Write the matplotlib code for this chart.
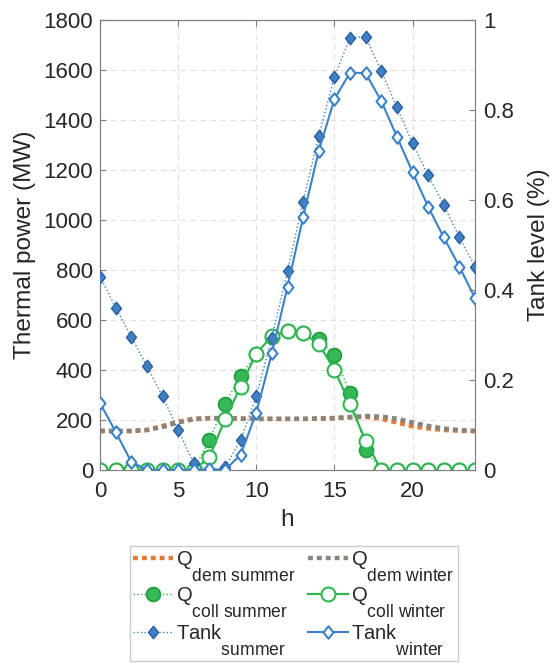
import matplotlib
matplotlib.use("Agg")
import matplotlib.pyplot as plt
import matplotlib._mathtext as _mathtext
from matplotlib.path import Path

plt.rcParams['font.family'] = ['Liberation Sans', 'DejaVu Sans']
plt.rcParams['mathtext.fontset'] = 'custom'
plt.rcParams['mathtext.rm'] = 'Liberation Sans'
plt.rcParams['mathtext.it'] = 'Liberation Sans'
# larger, lower subscripts in the legend labels
_mathtext.SHRINK_FACTOR = 0.87
for _cls in (_mathtext.FontConstantsBase, _mathtext.DejaVuSansFontConstants):
    _cls.sub1 = 1.5

# Hours of the day
hours = list(range(25))

# Thermal demand (MW)
q_dem_summer = [155, 155, 155, 160, 176, 193, 205, 208, 207, 205, 204, 204, 204,
                204, 205, 207, 210, 212, 205, 190, 175, 166, 160, 157, 155]
q_dem_winter = [157, 157, 157, 160, 172, 190, 203, 207, 207, 206, 205, 205, 205,
                205, 206, 208, 212, 216, 214, 205, 190, 176, 166, 160, 157]

# Collector output (MW)
q_coll_summer = [0, 0, 0, 0, 0, 0, 0, 120, 266, 375, 465, 533, 555,
                 548, 525, 460, 309, 80, 0, 0, 0, 0, 0, 0, 0]
q_coll_winter = [0, 0, 0, 0, 0, 0, 0, 51, 203, 333, 466, 535, 557,
                 548, 504, 402, 263, 117, 0, 0, 0, 0, 0, 0, 0]

# Storage tank level (fraction of capacity)
tank_summer = [0.430, 0.361, 0.296, 0.231, 0.164, 0.089, 0.015, 0.0, 0.006, 0.066,
               0.164, 0.294, 0.442, 0.596, 0.743, 0.874, 0.960, 0.963, 0.887, 0.806,
               0.727, 0.655, 0.589, 0.517, 0.452]
tank_winter = [0.149, 0.085, 0.018, 0.0, 0.0, 0.0, 0.0, 0.002, 0.0, 0.034,
               0.127, 0.260, 0.407, 0.562, 0.709, 0.824, 0.883, 0.882, 0.820, 0.741,
               0.662, 0.585, 0.517, 0.452, 0.382]

x_ticks = [0, 5, 10, 15, 20]
left_ticks = list(range(0, 1801, 200))
right_ticks = [0, 0.2, 0.4, 0.6, 0.8, 1]
right_tick_labels = ['0', '0.2', '0.4', '0.6', '0.8', '1']

diamond = Path([(0, 1), (0.8, 0), (0, -1), (-0.8, 0), (0, 1)],
               [Path.MOVETO, Path.LINETO, Path.LINETO, Path.LINETO, Path.CLOSEPOLY])

blue_line = '#3b82c6'
blue_face = '#3f7fc4'
blue_edge = '#2a5f9c'
green_line = '#2fb653'
green_face = '#35b856'
green_edge = '#1f9a40'
text_col = '#262626'
spine_col = '#7f7f7f'
tick_fs = 16
label_fs = 17.6

fig = plt.figure(figsize=(5.54, 6.68), dpi=100)
ax = fig.add_axes([100 / 554, 1 - 470 / 668, 375 / 554, 450 / 668])

l1, = ax.plot(hours, q_dem_summer, color='#e07b39', lw=3.2, dashes=(1.1, 0.9),
              dash_capstyle='butt', label=r'Q$_{\mathrm{dem\ summer}}$', zorder=2)
l2, = ax.plot(hours, q_dem_winter, color='#8c837c', lw=3.2, dashes=(1.1, 0.9),
              dash_capstyle='butt', label=r'Q$_{\mathrm{dem\ winter}}$', zorder=2.1)
l3, = ax.plot(hours, q_coll_summer, color=green_line, lw=1.0, ls=':', marker='o',
              ms=10, mfc=green_face, mec=green_edge, mew=1.2,
              label=r'Q$_{\mathrm{coll\ summer}}$', zorder=3)
l4, = ax.plot(hours, q_coll_winter, color=green_line, lw=1.6, ls='-', marker='o',
              ms=10, mfc='white', mec=green_line, mew=1.5,
              label=r'Q$_{\mathrm{coll\ winter}}$', zorder=3.1)

ax.set_xlim(0, 24)
ax.set_ylim(0, 1800)
ax.set_xticks(x_ticks)
ax.set_yticks(left_ticks)
ax.grid(True, color='#dedede', ls=(0, (5, 4)), lw=0.8)
ax.set_axisbelow(True)
ax.tick_params(direction='in', length=4, width=0.8, colors=spine_col,
               labelcolor=text_col, labelsize=tick_fs, top=True)
ax.tick_params(axis='x', pad=8)
ax.tick_params(axis='y', pad=5)
ax.set_ylabel('Thermal power (MW)', fontsize=label_fs, color=text_col, labelpad=5)
ax.set_xlabel('h', fontsize=label_fs, color=text_col, labelpad=5)
for s in ax.spines.values():
    s.set_color(spine_col)
    s.set_linewidth(0.8)

ax2 = ax.twinx()
l5, = ax2.plot(hours, tank_summer, color=blue_line, lw=1.0, ls=':', marker=diamond,
               ms=9, mfc=blue_face, mec=blue_edge, mew=1.0,
               label=r'Tank$_{\mathrm{summer}}$', zorder=4)
l6, = ax2.plot(hours, tank_winter, color=blue_line, lw=1.5, ls='-', marker=diamond,
               ms=9, mfc='white', mec=blue_line, mew=1.5,
               label=r'Tank$_{\mathrm{winter}}$', zorder=4.1)
ax2.set_ylim(0, 1)
ax2.set_yticks(right_ticks)
ax2.set_yticklabels(right_tick_labels)
ax2.tick_params(direction='in', length=4, width=0.8, colors=spine_col,
                labelcolor=text_col, labelsize=tick_fs, pad=6)
ax2.set_ylabel('Tank level (%)', fontsize=label_fs, color=text_col, labelpad=10)
for s in ax2.spines.values():
    s.set_color(spine_col)
    s.set_linewidth(0.8)

handles = [l1, l3, l5, l2, l4, l6]
leg = fig.legend(handles, [h.get_label() for h in handles],
                 ncol=2, loc='upper left', bbox_to_anchor=(130 / 554, 1 - 546 / 668),
                 fontsize=14.5, frameon=True, fancybox=False, edgecolor='#bfbfbf',
                 handlelength=2.0, handletextpad=0.15, columnspacing=0.6,
                 labelspacing=0.1, borderpad=0.15, borderaxespad=0)
leg.get_frame().set_linewidth(1.0)
for t in leg.get_texts():
    t.set_color(text_col)

fig.savefig('out.png', dpi=100)
